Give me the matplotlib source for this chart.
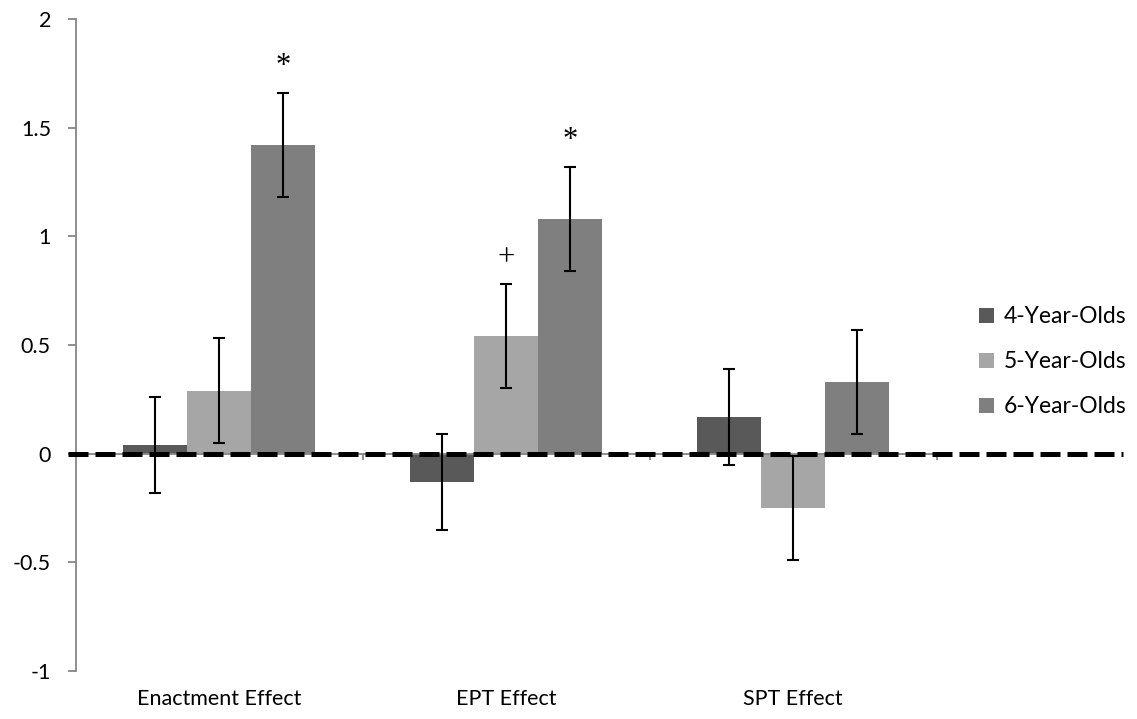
import numpy as np
import matplotlib
matplotlib.use('Agg')
from matplotlib import pyplot as plt
from matplotlib.ticker import FuncFormatter

plt.rcParams['font.family'] = ['Lato', 'DejaVu Sans']
plt.rcParams['axes.unicode_minus'] = False

# data
categories = ['Enactment Effect', 'EPT Effect', 'SPT Effect']
series = ['4-Year-Olds', '5-Year-Olds', '6-Year-Olds']
colors = ['#595959', '#a6a6a6', '#7f7f7f']
values = [
    [0.04, -0.13, 0.17],   # 4-year-olds
    [0.29, 0.54, -0.25],   # 5-year-olds
    [1.42, 1.08, 0.33],    # 6-year-olds
]
errors = [
    [0.22, 0.22, 0.22],
    [0.24, 0.24, 0.24],
    [0.24, 0.24, 0.24],
]
# (category index, series index, mark)
sig_marks = [(0, 2, '*'), (1, 1, '+'), (1, 2, '*')]
yticks = [-1, -0.5, 0, 0.5, 1, 1.5, 2]

AXIS_GRAY = '#868686'
bar_w = 0.223

fig = plt.figure(figsize=(11.37, 7.19), dpi=100)
ax = fig.add_axes([0.0668, 0.0668, 0.757, 0.9068])

x = np.arange(len(categories))
for i, name in enumerate(series):
    xs = x + (i - 1) * bar_w
    ax.bar(xs, values[i], bar_w, color=colors[i], label=name, zorder=2)
    ax.errorbar(xs, values[i], yerr=errors[i], fmt='none', ecolor='black',
                elinewidth=1.5, capsize=4.3, capthick=1.5, zorder=4)

for ci, si, mark in sig_marks:
    xm = ci + (si - 1) * bar_w
    ym = values[si][ci] + errors[si][ci] + 0.12
    ax.text(xm, ym, mark, ha='center', va='center', fontsize=22,
            family='Liberation Serif', zorder=5)

# thick dashed reference line at zero
ax.plot([-0.528, 3.15], [0, 0], color='black', lw=3.6,
        linestyle=(0, (4.0, 1.4)), solid_capstyle='butt',
        dash_capstyle='butt', clip_on=False, zorder=3)

ax.set_xlim(-0.5, 2.5)
ax.set_ylim(-1, 2)
ax.set_yticks(yticks)
ax.yaxis.set_major_formatter(FuncFormatter(lambda v, p: '%g' % v))

for s in ['top', 'right']:
    ax.spines[s].set_visible(False)
ax.spines['left'].set_color(AXIS_GRAY)
ax.spines['left'].set_linewidth(1.3)
ax.spines['bottom'].set_position(('data', 0))
ax.spines['bottom'].set_color(AXIS_GRAY)
ax.spines['bottom'].set_linewidth(1.3)

ax.set_xticks([0.5, 1.5, 2.5])
ax.set_xticklabels([])
ax.tick_params(axis='x', direction='out', length=4, width=1.3, color=AXIS_GRAY)
ax.tick_params(axis='y', direction='out', length=6, width=1.3, color=AXIS_GRAY,
               labelsize=15.5, pad=12)

for i, c in enumerate(categories):
    ax.annotate(c, (x[i], -1), xytext=(0, -13), textcoords='offset points',
                ha='center', va='top', fontsize=15.5, annotation_clip=False)

leg = ax.legend(loc='center left', bbox_to_anchor=(1.049, 0.474), frameon=False,
                fontsize=16.5, handlelength=0.64, handleheight=0.64,
                handletextpad=0.45, labelspacing=1.05, borderpad=0,
                borderaxespad=0)

fig.savefig('out.png', dpi=100)
